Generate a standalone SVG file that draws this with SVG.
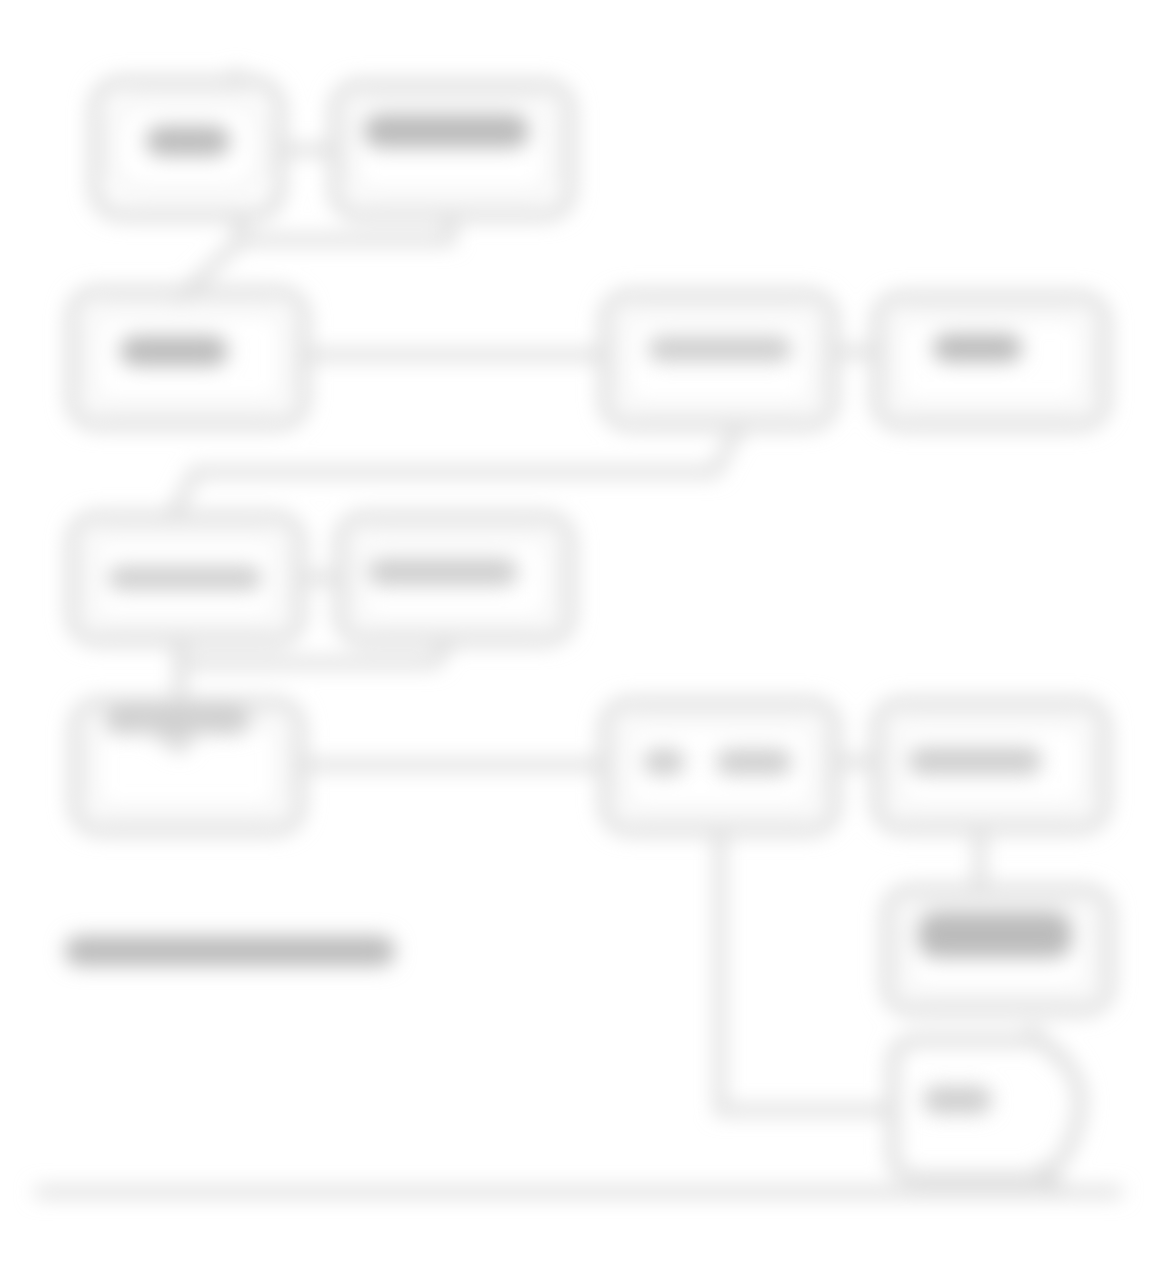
<svg xmlns="http://www.w3.org/2000/svg" width="1167" height="1269" viewBox="0 0 1167 1269">
<defs>
<filter id="soft" filterUnits="userSpaceOnUse" x="0" y="0" width="1167" height="1269">
<feGaussianBlur stdDeviation="10"/>
</filter>
<style>
.box{fill:none;stroke:#d9d9d9;stroke-width:11}
.inner{fill:none;stroke:#eeeeee;stroke-width:7}
.ln{fill:none;stroke:#d9d9d9;stroke-width:10}
.blob{fill:#bcbcbc}
.blob2{fill:#cfcfcf}
</style>
</defs>
<rect width="1167" height="1269" fill="#ffffff"/>
<g filter="url(#soft)">
<g id="connectors">
<path class="ln" d="M280 150 H335"/>
<path class="ln" d="M240 215 V240 H450 V215"/>
<path class="ln" d="M240 240 L178 300"/>
<path class="ln" d="M304 355 H605"/>
<path class="ln" d="M833 352 H877"/>
<path class="ln" d="M740 425 L715 472 H195 L172 517"/>
<path class="ln" d="M300 578 H340"/>
<path class="ln" d="M450 640 L435 663 H180"/>
<path class="ln" d="M180 640 V745"/>
<path class="ln" d="M300 765 H605"/>
<path class="ln" d="M835 762 H877"/>
<path class="ln" d="M980 828 V890"/>
<path class="ln" d="M720 830 V1110 H893"/>
<path class="ln" d="M35 1192 H1122"/>
</g>
<g id="node-a"><rect class="box" x="95" y="82" width="185" height="133" rx="26"/><rect class="inner" x="112" y="100" width="150" height="92" rx="30"/><rect class="blob" x="146" y="126" width="84" height="30" rx="15"/><path class="ln" d="M232 72 L250 85"/></g>
<g id="node-b"><rect class="box" x="335" y="85" width="235" height="130" rx="24"/><rect class="inner" x="352" y="100" width="200" height="95" rx="20"/><rect class="blob" x="364" y="114" width="165" height="34" rx="16"/></g>
<g id="node-c"><rect class="box" x="72" y="292" width="232" height="132" rx="24"/><rect class="inner" x="90" y="310" width="196" height="96" rx="20"/><rect class="blob" x="120" y="336" width="108" height="30" rx="15"/></g>
<g id="node-d"><rect class="box" x="605" y="295" width="228" height="130" rx="24"/><rect class="inner" x="622" y="312" width="194" height="96" rx="20"/><rect class="blob2" x="648" y="336" width="144" height="26" rx="13"/></g>
<g id="node-e"><rect class="box" x="877" y="297" width="228" height="128" rx="24"/><rect class="inner" x="894" y="314" width="194" height="94" rx="20"/><rect class="blob" x="933" y="334" width="89" height="28" rx="14"/></g>
<g id="node-f"><rect class="box" x="72" y="517" width="228" height="123" rx="24"/><rect class="inner" x="90" y="534" width="192" height="90" rx="20"/><rect class="blob2" x="108" y="566" width="154" height="24" rx="12"/></g>
<g id="node-g"><rect class="box" x="340" y="517" width="230" height="123" rx="24"/><rect class="inner" x="357" y="534" width="196" height="90" rx="20"/><rect class="blob2" x="368" y="558" width="150" height="28" rx="14"/></g>
<g id="node-h"><rect class="box" x="75" y="703" width="225" height="127" rx="24"/><rect class="inner" x="92" y="720" width="190" height="92" rx="20"/><rect class="blob2" x="105" y="708" width="145" height="26" rx="13"/><path class="ln" d="M140 722 L180 748 L200 722"/></g>
<g id="node-i"><rect class="box" x="605" y="703" width="230" height="127" rx="24"/><rect class="inner" x="622" y="720" width="196" height="92" rx="20"/><rect class="blob2" x="643" y="749" width="42" height="26" rx="13"/><rect class="blob2" x="716" y="749" width="76" height="26" rx="13"/></g>
<g id="node-j"><rect class="box" x="877" y="703" width="228" height="125" rx="24"/><rect class="inner" x="894" y="720" width="194" height="90" rx="20"/><rect class="blob2" x="908" y="747" width="134" height="28" rx="14"/></g>
<g id="node-k"><rect class="box" x="887" y="890" width="222" height="120" rx="24"/><rect class="inner" x="904" y="906" width="188" height="88" rx="20"/><rect class="blob" x="918" y="912" width="154" height="46" rx="18"/></g>
<g id="node-l"><path class="box" d="M918 1040 H1040 Q1085 1070 1080 1110 Q1075 1150 1045 1178 H918 Q893 1178 893 1153 V1065 Q893 1040 918 1040 Z"/><rect class="blob2" x="923" y="1086" width="69" height="28" rx="14"/><path class="ln" d="M1030 1028 L1060 1060"/><path class="ln" d="M1040 1165 L1058 1188"/></g>
<g id="caption"><rect class="blob" x="65" y="936" width="330" height="30" rx="14"/></g>
</g>
</svg>
